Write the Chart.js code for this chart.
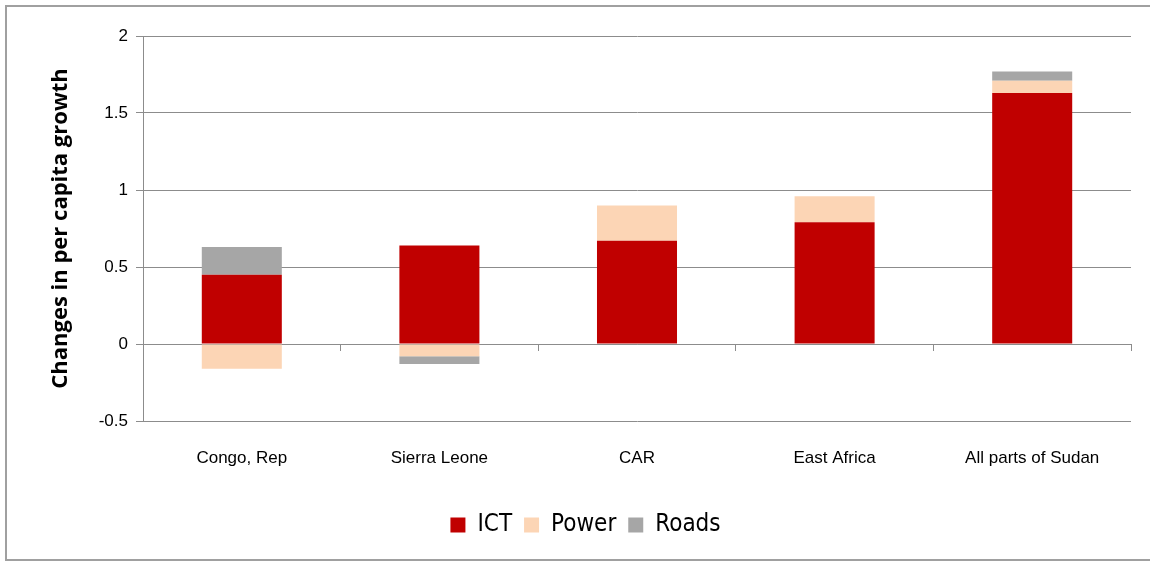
<!DOCTYPE html>
<html>
<head>
<meta charset="utf-8">
<script src="https://cdn.jsdelivr.net/npm/chart.js@4/dist/chart.umd.min.js"></script>
<style>
  html, body { margin: 0; background: #fff; overflow: hidden; width: 1150px; height: 561px; }
  #frame { position: absolute; left: 5px; top: 5px; width: 1143px; height: 552px; border: 2px solid #a0a0a0; border-right: none; }
  #wrap { position: absolute; left: 0; top: 0; width: 1150px; height: 561px; }
</style>
</head>
<body>
<div id="frame"></div>
<div id="wrap"><canvas id="chartContainer"></canvas></div>
<script>
// regions on the x axis
var regions = ['Congo, Rep', 'Sierra Leone', 'CAR', 'East Africa', 'All parts of Sudan'];

// contribution of each infrastructure type
var ictData = [0.45, 0.64, 0.67, 0.79, 1.63];
var powerData = [-0.16, -0.08, 0.23, 0.17, 0.08];
var roadsData = [0.18, -0.05, 0, 0, 0.06];

var gridGray = '#8c8c8c';

function makeSet(label, data, color) {
	return {
		label: label,
		data: data,
		backgroundColor: color,
		borderWidth: 0,
		categoryPercentage: 1,
		barPercentage: 0.405
	};
}

new Chart('chartContainer', {
	type: 'bar',
	data: {
		labels: regions,
		datasets: [
			makeSet('ICT', ictData, '#c00000'),
			makeSet('Power', powerData, '#fcd5b5'),
			makeSet('Roads', roadsData, '#a6a6a6')
		]
	},
	options: {
		responsive: true,
		maintainAspectRatio: false,
		animation: false,
		layout: { padding: { left: 40, top: 36, right: 19, bottom: 14 } },
		plugins: {
			tooltip: { enabled: false },
			legend: {
				position: 'bottom',
				labels: {
					boxWidth: 15,
					boxHeight: 15,
					padding: 12,
					color: '#000',
					font: { family: '"DejaVu Sans Condensed", "DejaVu Sans"', size: 24 }
				}
			}
		},
		scales: {
			// axis line crossing at zero, only the tick marks
			x: {
				stacked: true,
				position: { y: 0 },
				grid: { display: true, offset: true, drawOnChartArea: false, drawTicks: true, tickLength: 6, color: gridGray },
				border: { display: true, color: gridGray, width: 1 },
				ticks: { display: false }
			},
			// category labels below the plot
			x2: {
				type: 'category',
				labels: regions,
				position: 'bottom',
				grid: { display: false, drawTicks: false },
				border: { display: false },
				ticks: { padding: 27, color: '#000', font: { family: '"Liberation Sans", Arial', size: 17 } },
				afterFit: function (scale) { scale.height = 80; }
			},
			y: {
				stacked: true,
				min: -0.5,
				max: 2,
				ticks: {
					stepSize: 0.5,
					padding: 8,
					color: '#000',
					font: { family: '"Liberation Sans", Arial', size: 17 },
					callback: function (value) { return String(value); }
				},
				grid: { color: gridGray, tickLength: 7 },
				border: { display: true, color: gridGray },
				title: {
					display: true,
					text: 'Changes in per capita growth',
					color: '#000',
					padding: { top: 8, bottom: 0 },
					font: { family: '"Open Sans", "DejaVu Sans"', size: 22, weight: 'bold' }
				},
				afterFit: function (scale) { scale.width = 103; }
			}
		}
	}
});
</script>
</body>
</html>
